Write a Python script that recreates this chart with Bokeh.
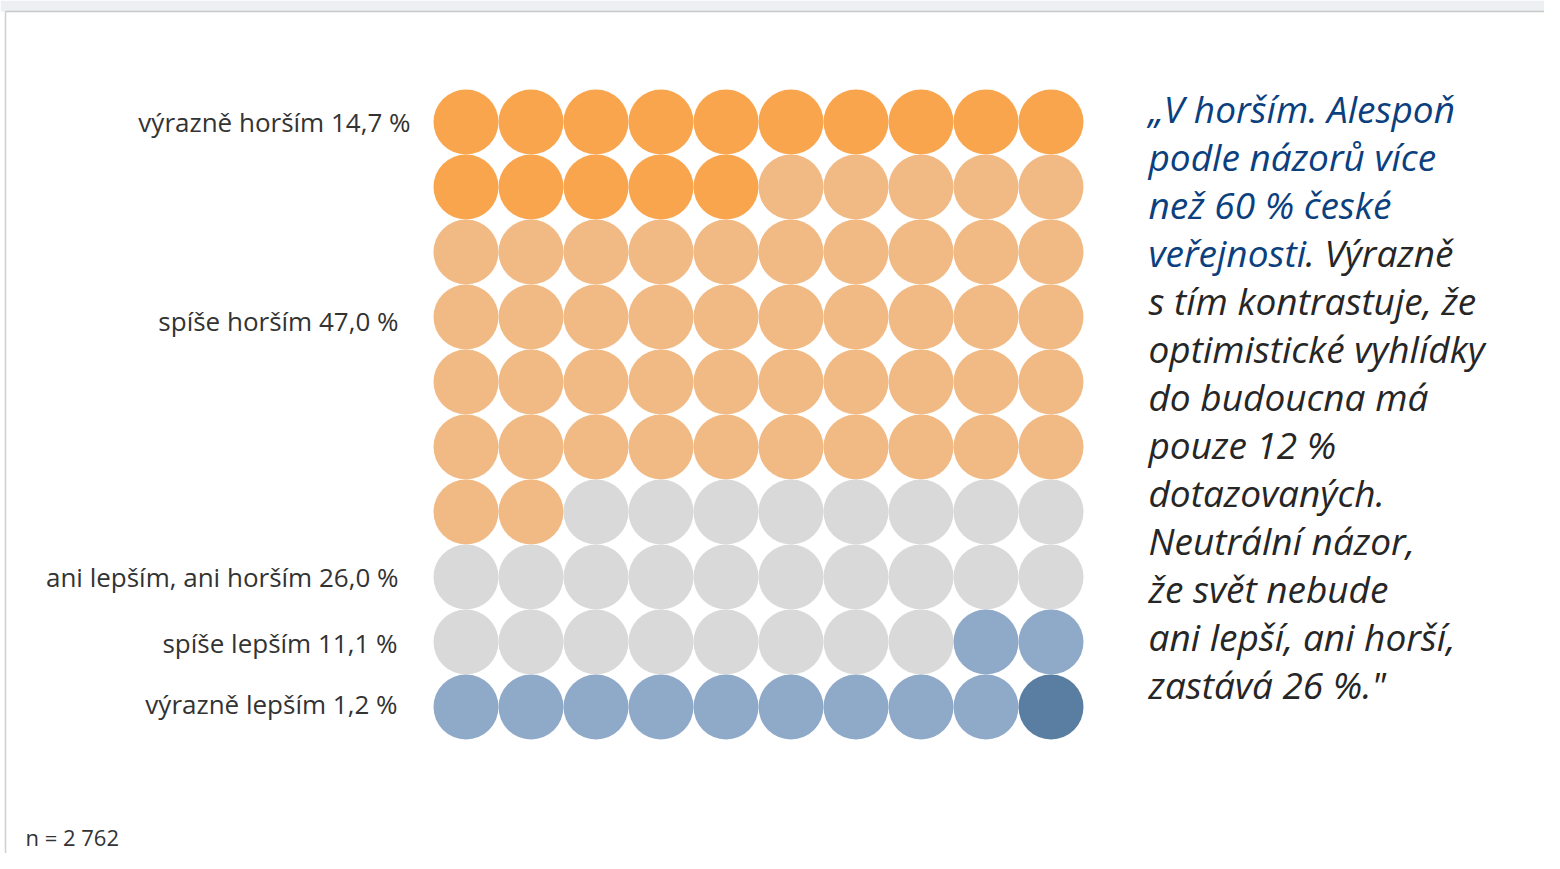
from bokeh.plotting import figure
from bokeh.models import Range1d
from bokeh.embed import file_html
from bokeh.resources import INLINE
from bokeh.core.properties import value

# ---- data ----
categories = ["výrazně horším", "spíše horším", "ani lepším, ani horším", "spíše lepším", "výrazně lepším"]
percent_labels = ["14,7 %", "47,0 %", "26,0 %", "11,1 %", "1,2 %"]
dot_counts = [15, 47, 26, 11, 1]
dot_colors = ["#F9A54E", "#F1BA84", "#D9D9D9", "#8FA9C8", "#5A7EA2"]
n_text = "n = 2 762"
quote_blue = ["„V horším. Alespoň", "podle názorů více", "než 60 % české", "veřejnosti"]
quote_rest_first = ". Výrazně"
quote_dark = ["s tím kontrastuje, že", "optimistické vyhlídky", "do budoucna má",
              "pouze 12 %", "dotazovaných.", "Neutrální názor,", "že svět nebude",
              "ani lepší, ani horší,", "zastává 26 %.\""]
grid_cols = 10

W, H = 1544, 853
p = figure(width=W, height=H, output_backend="svg", toolbar_location=None,
           x_range=Range1d(0, W), y_range=Range1d(H, 0),
           min_border=0, outline_line_color=None)
p.axis.visible = False
p.grid.visible = False
p.background_fill_color = "white"
p.border_fill_color = "white"

# slide frame
p.quad(left=[0], right=[W], top=[0], bottom=[11], fill_color="#EDF0F2", line_color=None)
p.segment(x0=[5], y0=[11], x1=[W], y1=[11], line_color="#C8C8C8", line_width=1.5)
p.segment(x0=[5], y0=[11], x1=[5], y1=[H], line_color="#D0D0D0", line_width=1.5)

# waffle
x0, y0, step = 465.5, 121.5, 65
xs, ys, cs = [], [], []
idx = 0
for cnt, col in zip(dot_counts, dot_colors):
    for _ in range(cnt):
        r, c = divmod(idx, grid_cols)
        xs.append(x0 + c * step)
        ys.append(y0 + r * step)
        cs.append(col)
        idx += 1
p.circle(x=xs, y=ys, radius=32.5, fill_color=cs, line_color=None)

# category labels
label_y = [121, 320, 576, 642, 703]
label_right = [410, 398, 398, 397, 397]
p.text(x=label_right, y=label_y,
       text=[f"{c} {v}" for c, v in zip(categories, percent_labels)],
       text_align="right", text_baseline="middle",
       text_font=value("Open Sans"), text_font_size="26px", text_color="#333333")

# n
p.text(x=[25], y=[836], text=[n_text], text_align="left", text_baseline="middle",
       text_font=value("Open Sans"), text_font_size="22px", text_color="#333333")

# quote
qx = 1148
line_h = 48
qy0 = 108
fs = "37px"
p.text(x=[qx] * len(quote_blue), y=[qy0 + i * line_h for i in range(len(quote_blue))],
       text=quote_blue, text_align="left", text_baseline="middle",
       text_font=value("Open Sans"), text_font_style="italic", text_font_size=fs,
       text_color="#0B3F7E")
p.text(x=[1305], y=[qy0 + 3 * line_h], text=[quote_rest_first], text_align="left",
       text_baseline="middle", text_font=value("Open Sans"), text_font_style="italic",
       text_font_size=fs, text_color="#262626")
p.text(x=[qx] * len(quote_dark),
       y=[qy0 + (i + 4) * line_h for i in range(len(quote_dark))],
       text=quote_dark, text_align="left", text_baseline="middle",
       text_font=value("Open Sans"), text_font_style="italic", text_font_size=fs,
       text_color="#262626")

open("out.html", "w").write(file_html(p, INLINE))
